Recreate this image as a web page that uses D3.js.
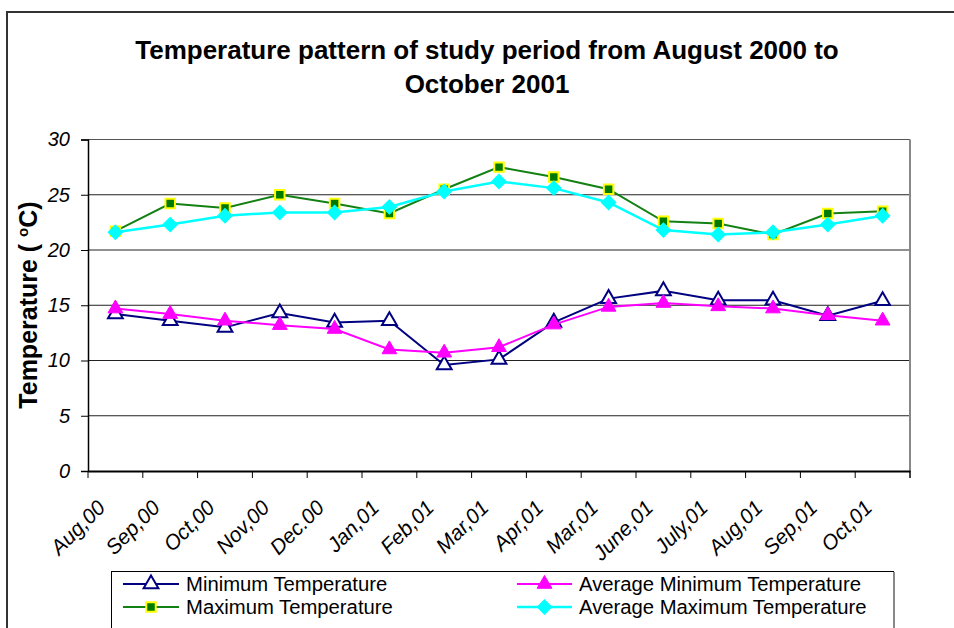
<!DOCTYPE html>
<html>
<head>
<meta charset="utf-8">
<script src="https://cdn.jsdelivr.net/npm/d3@7"></script>
<style>
  html, body { margin: 0; padding: 0; background: #fff; }
  svg { display: block; font-family: "Liberation Sans", Arial, sans-serif; }
</style>
</head>
<body>
<svg id="chart" width="954" height="628"></svg>
<script>
const categories = ["Aug,00","Sep,00","Oct,00","Nov,00","Dec.00","Jan,01","Feb,01","Mar,01","Apr,01","Mar,01 ","June,01","July,01","Aug,01 ","Sep,01 ","Oct,01 "];
const minTemp    = [14.2, 13.6, 13.0, 14.3, 13.45, 13.6, 9.6, 10.1, 13.45, 15.6, 16.3, 15.45, 15.45, 14.05, 15.4];
const avgMinTemp = [14.7, 14.2, 13.6, 13.2, 12.85, 11.0, 10.7, 11.2, 13.25, 14.85, 15.2, 14.9, 14.7, 14.1, 13.6];
const maxTemp    = [21.7, 24.2, 23.8, 25.0, 24.2, 23.3, 25.5, 27.5, 26.6, 25.5, 22.6, 22.4, 21.4, 23.3, 23.5];
const avgMaxTemp = [21.6, 22.3, 23.1, 23.4, 23.4, 23.9, 25.3, 26.2, 25.6, 24.3, 21.8, 21.4, 21.6, 22.3, 23.1];
const yTicks = [0, 5, 10, 15, 20, 25, 30];
const titleLines = ["Temperature pattern of study period from August 2000 to", "October 2001"];
const seriesNames = ["Minimum Temperature", "Average Minimum Temperature", "Maximum Temperature", "Average Maximum Temperature"];

const svg = d3.select("#chart");
const plot = {left: 88, right: 910, top: 139.5, bottom: 471};

// outer chart border
svg.append("rect").attr("x", 7).attr("y", 12).attr("width", 1000).attr("height", 1000)
  .attr("fill", "#fff").attr("stroke", "#333").attr("stroke-width", 2);

// title
svg.append("g").selectAll("text").data(titleLines).join("text")
  .attr("x", 487).attr("y", (d, i) => 59 + i * 34)
  .attr("text-anchor", "middle").attr("font-size", 26).attr("font-weight", "bold")
  .attr("fill", "#000").text(d => d);

const x = d3.scaleBand().domain(categories).range([plot.left, plot.right]);
const y = d3.scaleLinear().domain([0, 30]).range([plot.bottom, plot.top]);

// gridlines
svg.append("g").selectAll("line").data(yTicks.filter(v => v > 0)).join("line")
  .attr("x1", plot.left).attr("x2", plot.right)
  .attr("y1", d => y(d)).attr("y2", d => y(d))
  .attr("stroke", d => d === 30 ? "#555" : "#222").attr("stroke-width", 1);

// right border of plot area
svg.append("line").attr("x1", plot.right).attr("x2", plot.right)
  .attr("y1", plot.top).attr("y2", plot.bottom + 7)
  .attr("stroke", "#888").attr("stroke-width", 2);

// y axis
const yAxis = svg.append("g").attr("transform", `translate(${plot.left},0)`)
  .call(d3.axisLeft(y).tickValues(yTicks).tickSize(7).tickPadding(11).tickFormat(d3.format("d")));
yAxis.select(".domain").attr("stroke", "#000").attr("stroke-width", 1.5);
yAxis.selectAll(".tick line").attr("stroke", "#000");
yAxis.selectAll("text").attr("font-size", 20).attr("font-style", "italic")
  .attr("font-family", "Liberation Sans, Arial, sans-serif").attr("fill", "#000");

// x axis
const xAxis = svg.append("g").attr("transform", `translate(0,${plot.bottom})`)
  .call(d3.axisBottom(x).tickSize(0).tickFormat(d => d.trim()));
xAxis.select(".domain").attr("stroke", "#000").attr("stroke-width", 2);
xAxis.selectAll(".tick text")
  .attr("font-size", 21).attr("font-style", "italic")
  .attr("font-family", "Liberation Sans, Arial, sans-serif").attr("fill", "#000")
  .attr("text-anchor", "end").attr("dy", null).attr("y", null)
  .attr("transform", "translate(-9,38) rotate(-45)");
// category boundary ticks
const bounds = categories.map(c => x(c)).concat([x(categories[categories.length - 1]) + x.bandwidth()]);
svg.append("g").selectAll("line").data(bounds).join("line")
  .attr("x1", d => d).attr("x2", d => d)
  .attr("y1", plot.bottom).attr("y2", plot.bottom + 7)
  .attr("stroke", "#000").attr("stroke-width", 1);

// y axis title
const yt = svg.append("text").attr("transform", "translate(37,305) rotate(-90)")
  .attr("text-anchor", "middle").attr("font-size", 25).attr("font-weight", "bold").attr("fill", "#000");
yt.append("tspan").text("Temperature ( ");
yt.append("tspan").attr("font-size", 15).attr("dy", -9).text("o");
yt.append("tspan").attr("dy", 9).text("C)");

// series
const tri = d3.symbol(d3.symbolTriangle, 95)();
const sq = d3.symbol(d3.symbolSquare, 90)();
const dia = d3.symbol(d3.symbolSquare, 105)();
const series = [
  {name: seriesNames[0], values: minTemp, line: "#000080", lw: 2, shape: tri, fill: "#fff", stroke: "#000080", sw: 2, rot: 0},
  {name: seriesNames[1], values: avgMinTemp, line: "#FF00FF", lw: 2, shape: tri, fill: "#FF00FF", stroke: "#FF00FF", sw: 1, rot: 0},
  {name: seriesNames[2], values: maxTemp, line: "#138013", lw: 2, shape: sq, fill: "#007A00", stroke: "#FFFF00", sw: 2, rot: 0},
  {name: seriesNames[3], values: avgMaxTemp, line: "#00FFFF", lw: 2.5, shape: dia, fill: "#00FFFF", stroke: "#00FFFF", sw: 1, rot: 45}
];
const cx = c => x(c) + x.bandwidth() / 2;
const lineGen = d3.line().x((d, i) => cx(categories[i])).y(d => y(d));
series.forEach(s => {
  const g = svg.append("g");
  g.append("path").attr("d", lineGen(s.values)).attr("fill", "none")
    .attr("stroke", s.line).attr("stroke-width", s.lw);
  g.selectAll("path.m").data(s.values).join("path").attr("class", "m")
    .attr("d", s.shape)
    .attr("transform", (d, i) => `translate(${cx(categories[i])},${y(d)}) rotate(${s.rot})`)
    .attr("fill", s.fill).attr("stroke", s.stroke).attr("stroke-width", s.sw);
});

// legend
svg.append("rect").attr("x", 111.5).attr("y", 571.5).attr("width", 782).attr("height", 100)
  .attr("fill", "#fff").attr("stroke", "#000").attr("stroke-width", 1);
svg.append("line").attr("x1", 894).attr("x2", 894).attr("y1", 572).attr("y2", 628)
  .attr("stroke", "#888").attr("stroke-width", 2);
const legPos = [
  {x0: 123, x1: 179, y: 584},
  {x0: 517, x1: 572, y: 584},
  {x0: 123, x1: 179, y: 607},
  {x0: 517, x1: 572, y: 607}
];
series.forEach((s, i) => {
  const p = legPos[i];
  const g = svg.append("g");
  g.append("line").attr("x1", p.x0).attr("x2", p.x1).attr("y1", p.y).attr("y2", p.y)
    .attr("stroke", s.line).attr("stroke-width", s.lw);
  g.append("path").attr("d", s.shape)
    .attr("transform", `translate(${(p.x0 + p.x1) / 2},${p.y}) rotate(${s.rot})`)
    .attr("fill", s.fill).attr("stroke", s.stroke).attr("stroke-width", s.sw);
  g.append("text").attr("transform", `translate(${p.x1 + 7},${p.y + 7}) scale(1.04,1)`)
    .attr("font-size", 19.5).attr("fill", "#000").text(s.name);
});
</script>
</body>
</html>
